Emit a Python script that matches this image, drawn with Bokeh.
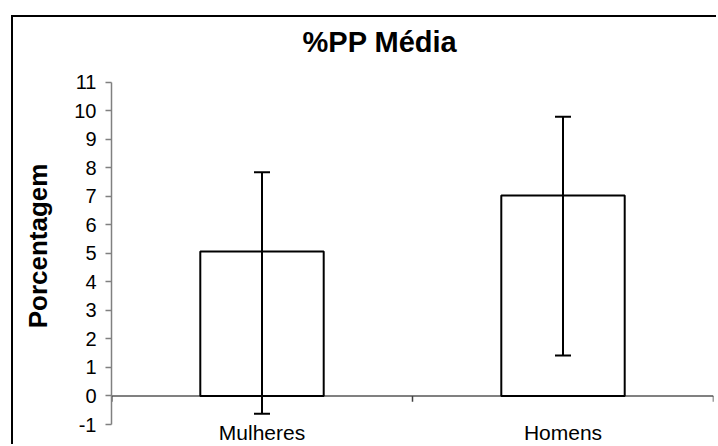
from bokeh.plotting import figure
from bokeh.models import (Range1d, FactorRange, FixedTicker, Span, Whisker,
                          TeeHead, ColumnDataSource)
from bokeh.transform import dodge
from bokeh.embed import file_html
from bokeh.resources import INLINE

# ---- data ----
categories = ["Mulheres", "Homens"]
means = [5.07, 7.03]
err_upper = [7.85, 9.80]
err_lower = [-0.62, 1.42]
y_ticks = [-1, 0, 1, 2, 3, 4, 5, 6, 7, 8, 9, 10, 11]
y_tick_labels = ["-1", "0", "1", "2", "3", "4", "5", "6", "7", "8", "9", "10", "11"]
title_text = "%PP Média"
y_label = "Porcentagem"

FONT = "Liberation Sans"
W, H = 705, 429
Y_MIN, Y_MAX = y_ticks[0], y_ticks[-1]
Y_HEADROOM = 0.525  # empty space above the axis end, room for the title

p = figure(
    x_range=FactorRange(*categories, range_padding=0),
    y_range=Range1d(Y_MIN, Y_MAX + Y_HEADROOM),
    width=W, height=H,
    output_backend="svg", toolbar_location=None,
    min_border_left=98, min_border_right=5,
    min_border_top=50, min_border_bottom=21,
)
p.styles = {"position": "relative", "left": "11px", "top": "15px",
            "border-left": "2px solid black", "border-top": "2px solid black"}

p.background_fill_color = "white"
p.border_fill_color = "white"
p.outline_line_color = None
p.xgrid.visible = False
p.ygrid.visible = False

# title
p.title.text = title_text
p.title.text_font = FONT
p.title.text_font_size = "29px"
p.title.text_font_style = "bold"
p.title.text_color = "black"
p.title.align = "left"
p.title.vertical_align = "top"
p.title.offset = 191
p.title.standoff = 16

# y axis
ya = p.yaxis[0]
ya.ticker = FixedTicker(ticks=y_ticks)
ya.major_label_overrides = {t: s for t, s in zip(y_ticks, y_tick_labels)}
ya.bounds = (Y_MIN, Y_MAX)
ya.minor_tick_line_color = None
ya.axis_line_color = "#808080"
ya.axis_line_width = 1.5
ya.major_tick_line_color = "#808080"
ya.major_tick_line_width = 1.5
ya.major_tick_out = 6
ya.major_tick_in = 0
ya.major_label_standoff = 9
ya.major_label_text_font = FONT
ya.major_label_text_font_size = "20px"
ya.major_label_text_color = "black"
ya.axis_label = y_label
ya.axis_label_text_font = FONT
ya.axis_label_text_font_size = "26px"
ya.axis_label_text_font_style = "bold"
ya.axis_label_text_color = "black"
ya.axis_label_standoff = 18

# x axis: category labels only
xa = p.xaxis[0]
xa.axis_line_color = None
xa.major_tick_line_color = None
xa.minor_tick_line_color = None
xa.major_tick_out = 0
xa.major_tick_in = 0
xa.minor_tick_out = 0
xa.major_label_standoff = -4
xa.major_label_text_font = FONT
xa.major_label_text_font_size = "21px"
xa.major_label_text_color = "black"

# zero line acting as category axis
zero = Span(location=0, dimension="width", line_color="#808080",
            line_width=2, level="underlay")
p.add_layout(zero)

src = ColumnDataSource(dict(cat=categories, mean=means,
                            upper=err_upper, lower=err_lower))

p.vbar(x="cat", top="mean", bottom=0, width=0.41, source=src,
       fill_color="white", line_color="black", line_width=2)

# category boundary tick marks on the zero line
tick_len = 0.2
tsrc = ColumnDataSource(dict(cat=categories, y0=[0, 0], y1=[-tick_len, -tick_len]))
p.segment(x0=dodge("cat", 0.5, range=p.x_range), x1=dodge("cat", 0.5, range=p.x_range),
          y0="y0", y1="y1", source=tsrc, line_color="#404040", line_width=1.5)
lsrc = ColumnDataSource(dict(cat=categories[:1], y0=[0], y1=[-tick_len]))
p.segment(x0=dodge("cat", -0.5, range=p.x_range), x1=dodge("cat", -0.5, range=p.x_range),
          y0="y0", y1="y1", source=lsrc, line_color="#202020", line_width=2)

wh = Whisker(base="cat", upper="upper", lower="lower", source=src,
             line_color="black", line_width=2, level="overlay",
             upper_head=TeeHead(size=16, line_color="black", line_width=2),
             lower_head=TeeHead(size=16, line_color="black", line_width=2))
p.add_layout(wh)

open("out.html", "w").write(file_html(p, INLINE))
